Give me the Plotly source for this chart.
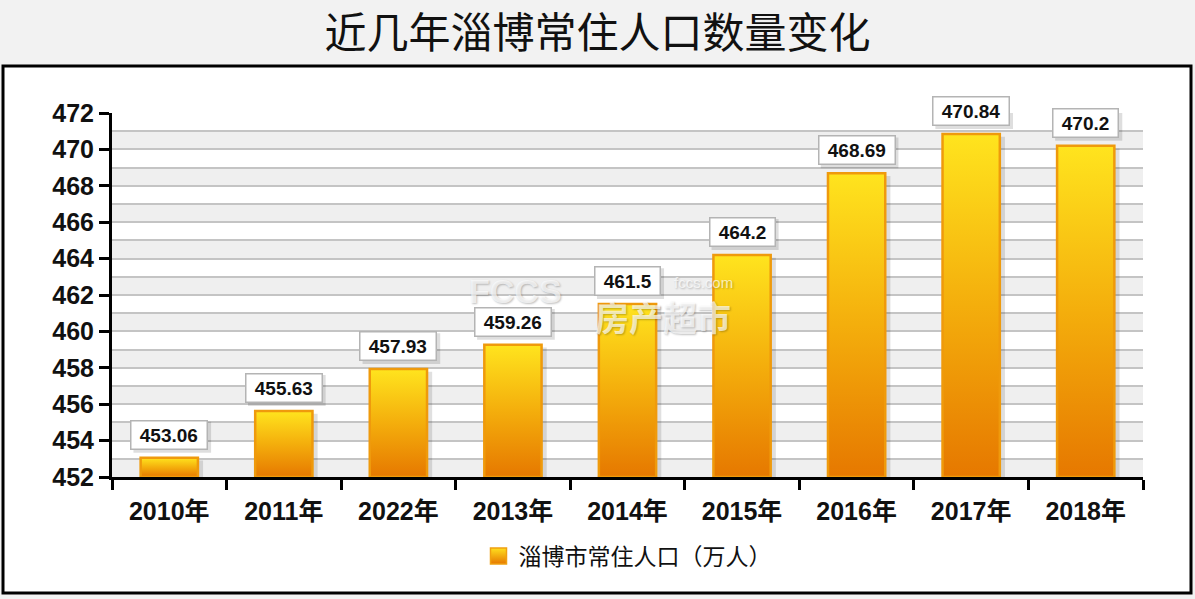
import plotly.graph_objects as go

# ---------------- data ----------------
years = ["2010年", "2011年", "2022年", "2013年", "2014年", "2015年", "2016年", "2017年", "2018年"]
population = [453.06, 455.63, 457.93, 459.26, 461.5, 464.2, 468.69, 470.84, 470.2]
series_name = "淄博市常住人口（万人）"
chart_title = "近几年淄博常住人口数量变化"
y_min, y_max, y_step = 452, 472, 2

# ---------------- geometry helpers ----------------
W, H = 1195, 599
ML, MR, MT, MB = 112, 52, 113, 122
PW, PH = W - ML - MR, H - MT - MB


def px_x(p):
    return (p - ML) / PW


def px_y(p):
    return (H - MB - p) / PH


latin = "Liberation Sans, Arial, Noto Sans CJK SC"
cjk = "Noto Sans CJK SC, Liberation Sans"

LABEL_SIZE, LABEL_PAD, LABEL_BORDER, LABEL_SHIFT = 19, 3, 1.5, 8


def label_width(s):
    # approximate advance widths of Liberation Sans Bold
    w = 0.0
    for ch in s:
        w += 0.278 if ch in ".\u00a0" else 0.556
    return w * LABEL_SIZE


fig = go.Figure()

half = 0.25
for i, v in enumerate(population):
    xs = [i - half, i + half, i + half, i - half, i - half]
    ys = [y_min, y_min, v, v, y_min]
    # soft shadow to the right of each bar
    fig.add_trace(go.Scatter(
        x=[x + 0.045 for x in xs],
        y=[y if y == y_min else y - 0.15 for y in ys],
        mode="lines", fill="toself", fillcolor="rgba(0,0,0,0.12)",
        line=dict(width=0), hoverinfo="skip", showlegend=False))
    # gradient bar
    fig.add_trace(go.Scatter(
        x=xs, y=ys, mode="lines", fill="toself",
        fillgradient=dict(type="vertical",
                          colorscale=[[0, "#e67800"], [0.5, "#f4ae0c"], [1, "#ffe41e"]]),
        line=dict(color="#ef9a0c", width=2.5),
        name=series_name, legendgroup="pop", showlegend=False,
        hovertemplate="%{text}<extra></extra>", text=[f"{years[i]}: {v:g}"] * 5))

# legend key
fig.add_trace(go.Scatter(
    x=[None], y=[None], mode="markers", name=series_name, legendgroup="pop",
    marker=dict(symbol="square", size=18, color="#ffe01e",
                gradient=dict(type="vertical", color="#e67800"),
                line=dict(color="#f0a010", width=1.5))))

# watermark
wm_font = dict(color="rgba(255,255,255,0.7)", shadow="1px 1px 2px rgba(0,0,0,0.35)")
fig.add_annotation(x=px_x(515), y=px_y(291), xref="paper", yref="paper",
                   text="<b>FCCS</b>", showarrow=False,
                   font=dict(family=latin, size=34, **wm_font))
fig.add_annotation(x=px_x(663), y=px_y(316), xref="paper", yref="paper",
                   text="<b>房产超市</b>", showarrow=False,
                   font=dict(family=cjk, size=34, **wm_font))
fig.add_annotation(x=px_x(703), y=px_y(282), xref="paper", yref="paper",
                   text="fccs.com", showarrow=False,
                   font=dict(family=latin, size=15, **wm_font))

# frame box, alternating bands and label shadows
shapes = [dict(type="rect", xref="paper", yref="paper",
               x0=px_x(3), x1=px_x(1191), y0=px_y(593), y1=px_y(66),
               fillcolor="#ffffff", line=dict(color="#000000", width=3), layer="below")]
for lo in range(y_min, y_max, 2):
    shapes.append(dict(type="rect", xref="x", yref="y", x0=-0.5, x1=len(years) - 0.5,
                       y0=lo, y1=lo + 1, fillcolor="#efefef", line=dict(width=0),
                       layer="below"))

for i, v in enumerate(population):
    txt = "\u00a0" + f"{v:g}" + "\u00a0"
    bw = label_width(txt) + 2 * LABEL_PAD + 2 * LABEL_BORDER
    bh = LABEL_SIZE * 1.15 + 2 * LABEL_PAD + 2 * LABEL_BORDER
    shapes.append(dict(type="rect", xref="x", yref="y",
                       xsizemode="pixel", ysizemode="pixel", xanchor=i, yanchor=v,
                       x0=-bw / 2 + 3, x1=bw / 2 + 3,
                       y0=LABEL_SHIFT - 3, y1=LABEL_SHIFT - 3 + bh,
                       fillcolor="rgba(0,0,0,0.13)", line=dict(width=0), layer="above"))
    fig.add_annotation(x=i, y=v, xref="x", yref="y", text=f"<b>{txt}</b>", showarrow=False,
                       yanchor="bottom", yshift=LABEL_SHIFT,
                       font=dict(family=latin, size=LABEL_SIZE, color="#111111"),
                       bgcolor="#ffffff", borderpad=LABEL_PAD, borderwidth=LABEL_BORDER,
                       bordercolor="#b4b4b4")

fig.update_layout(
    width=W, height=H,
    margin=dict(l=ML, r=MR, t=MT, b=MB, pad=0),
    paper_bgcolor="#f2f2f2", plot_bgcolor="#ffffff",
    title=dict(text=chart_title, x=0.5, xref="container", xanchor="center",
               y=1 - 33 / H, yref="container", yanchor="middle",
               font=dict(family=cjk, size=42, color="#111111")),
    shapes=shapes,
    showlegend=True,
    legend=dict(orientation="h", x=0.5, xanchor="center", y=px_y(556), yanchor="middle",
                font=dict(family=cjk, size=23, color="#111111"),
                bgcolor="rgba(0,0,0,0)"),
    xaxis=dict(range=[-0.5, len(years) - 0.5], tickmode="array",
               tickvals=list(range(len(years))), ticktext=years,
               ticks="outside", ticklen=10, tickcolor="rgba(0,0,0,0)",
               tickfont=dict(family=latin, size=25, color="#111111", weight="bold"),
               showgrid=False, zeroline=False,
               showline=True, linecolor="#000000", linewidth=3,
               minor=dict(tickmode="array",
                          tickvals=[k - 0.5 for k in range(len(years) + 1)],
                          ticks="outside", ticklen=10, tickwidth=3, tickcolor="#000000",
                          showgrid=False),
               fixedrange=True),
    yaxis=dict(range=[y_min, y_max], tickmode="linear", tick0=y_min, dtick=y_step,
               ticks="outside", ticklen=10, tickwidth=3, tickcolor="#000000",
               tickfont=dict(family=latin, size=25, color="#111111", weight="bold"),
               showgrid=True, gridcolor="#c4c4c4", gridwidth=1.5,
               minor=dict(dtick=1, showgrid=True, gridcolor="#c4c4c4", gridwidth=1.5,
                          ticks=""),
               zeroline=False, showline=True, linecolor="#000000", linewidth=3,
               fixedrange=True),
    hovermode="closest",
)

fig.write_html("out.html", config={"displayModeBar": False},
               post_script="document.body.style.margin='0';"
                           "document.body.style.background='#f2f2f2';"
                           "document.body.style.overflow='hidden';")
